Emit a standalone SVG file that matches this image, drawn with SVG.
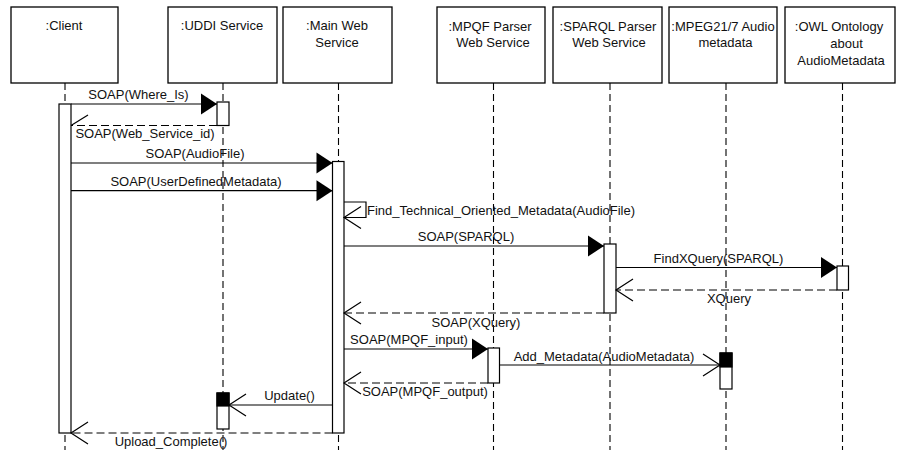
<svg xmlns="http://www.w3.org/2000/svg" width="897" height="450" viewBox="0 0 897 450">
  <style>
    .box { fill: #fff; stroke: #000; stroke-width: 1.3; }
    .life { stroke: #000; stroke-width: 1.1; stroke-dasharray: 7 4; fill: none; }
    .bar { fill: #fff; stroke: #000; stroke-width: 1.2; }
    .busy { fill: #000; stroke: #000; stroke-width: 1.2; }
    .msg { stroke: #000; stroke-width: 1.2; fill: none; }
    .ret { stroke: #000; stroke-width: 1.2; fill: none; stroke-dasharray: 8 4; }
    text { font-family: "Liberation Sans", Arial, sans-serif; font-size: 13px; fill: #111; }
    .c { text-anchor: middle; }
  </style>
  <defs>
    <marker id="solidHead" markerUnits="userSpaceOnUse" markerWidth="17" markerHeight="22" refX="16" refY="10.5" orient="auto" overflow="visible">
      <path d="M0,0 L16,10.5 L0,21 Z" fill="#000" stroke="none"/>
    </marker>
    <marker id="openHead" markerUnits="userSpaceOnUse" markerWidth="18" markerHeight="23" refX="17" refY="11" orient="auto" overflow="visible">
      <path d="M0,0 L17,11 L0,22" fill="none" stroke="#000" stroke-width="1.2" stroke-dasharray="none"/>
    </marker>
  </defs>

  <!-- lifelines with header boxes and activation bars -->
  <g id="client">
    <rect class="box" x="11" y="7" width="107" height="76"/>
    <text class="c" x="64" y="30">:Client</text>
    <line class="life" x1="65" y1="83" x2="65" y2="450"/>
    <rect class="bar" x="59" y="104" width="12" height="329"/>
  </g>

  <g id="uddi">
    <rect class="box" x="168" y="7" width="109" height="76"/>
    <text class="c" x="222" y="29.5">:UDDI Service</text>
    <line class="life" x1="223" y1="83" x2="223" y2="450"/>
    <rect class="bar" x="217" y="102" width="12" height="23.5"/>
    <rect class="bar" x="217" y="393" width="12" height="36"/>
    <rect class="busy" x="217" y="393" width="12" height="13"/>
  </g>

  <g id="main">
    <rect class="box" x="283" y="7" width="109" height="76"/>
    <text class="c" x="337" y="30">:Main Web</text>
    <text class="c" x="337" y="46.5">Service</text>
    <line class="life" x1="338.5" y1="83" x2="338.5" y2="450"/>
    <rect class="bar" x="332.5" y="161.5" width="11.5" height="271.5"/>
  </g>

  <g id="mpqf">
    <rect class="box" x="437" y="7" width="108" height="76"/>
    <text class="c" x="490" y="30.5">:MPQF Parser</text>
    <text class="c" x="493" y="47">Web Service</text>
    <line class="life" x1="493.5" y1="83" x2="493.5" y2="450"/>
    <rect class="bar" x="488" y="348" width="11.5" height="35"/>
  </g>

  <g id="sparql">
    <rect class="box" x="553" y="7" width="109" height="76"/>
    <text class="c" x="608" y="30.5">:SPARQL Parser</text>
    <text class="c" x="609" y="47">Web Service</text>
    <line class="life" x1="610" y1="83" x2="610" y2="450"/>
    <rect class="bar" x="604" y="244" width="12" height="69"/>
  </g>

  <g id="mpeg">
    <rect class="box" x="669" y="7" width="108" height="76"/>
    <text class="c" x="723" y="30.5">:MPEG21/7 Audio</text>
    <text class="c" x="725.5" y="47">metadata</text>
    <line class="life" x1="726" y1="83" x2="726" y2="450"/>
    <rect class="bar" x="720" y="353" width="12" height="36"/>
    <rect class="busy" x="720" y="353" width="12" height="14"/>
  </g>

  <g id="owl">
    <rect class="box" x="785" y="7" width="110" height="76"/>
    <text class="c" x="839" y="30.5">:OWL Ontology</text>
    <text class="c" x="846.5" y="47.5">about</text>
    <text class="c" x="841" y="65">AudioMetadata</text>
    <line class="life" x1="842.5" y1="83" x2="842.5" y2="450"/>
    <rect class="bar" x="837" y="266" width="11.5" height="24"/>
  </g>

  <!-- messages -->
  <g id="messages">
    <line class="msg" x1="71" y1="104" x2="217" y2="104" marker-end="url(#solidHead)"/>
    <text class="c" x="138.5" y="99">SOAP(Where_Is)</text>

    <line class="ret" x1="217" y1="125.5" x2="71" y2="125.5"/>
    <polyline class="msg" points="88,115 71,125.5"/>
    <text class="c" x="145" y="138">SOAP(Web_Service_id)</text>

    <line class="msg" x1="71" y1="163" x2="332.5" y2="163" marker-end="url(#solidHead)"/>
    <text class="c" x="195" y="157.5">SOAP(AudioFile)</text>

    <line class="msg" x1="71" y1="190.7" x2="332.5" y2="190.7" marker-end="url(#solidHead)"/>
    <text class="c" x="196" y="186">SOAP(UserDefinedMetadata)</text>

    <polyline class="msg" points="344,202 366,202 366,217.5 344,217.5" marker-end="url(#openHead)"/>
    <text class="c" x="501" y="215">Find_Technical_Oriented_Metadata(AudioFile)</text>

    <line class="msg" x1="344" y1="246" x2="604" y2="246" marker-end="url(#solidHead)"/>
    <text class="c" x="466" y="241">SOAP(SPARQL)</text>

    <line class="msg" x1="616" y1="267.5" x2="837" y2="267.5" marker-end="url(#solidHead)"/>
    <text class="c" x="718.5" y="263">FindXQuery(SPARQL)</text>

    <line class="ret" x1="837" y1="290" x2="616" y2="290" marker-end="url(#openHead)"/>
    <text class="c" x="729" y="302.5">XQuery</text>

    <line class="ret" x1="604" y1="313" x2="344" y2="313" marker-end="url(#openHead)"/>
    <text class="c" x="476" y="326.5">SOAP(XQuery)</text>

    <line class="msg" x1="344" y1="349" x2="488" y2="349" marker-end="url(#solidHead)"/>
    <text class="c" x="409" y="344">SOAP(MPQF_input)</text>

    <line class="msg" x1="499.5" y1="365" x2="720" y2="365" marker-end="url(#openHead)"/>
    <text class="c" x="604" y="361">Add_Metadata(AudioMetadata)</text>

    <line class="ret" x1="488" y1="383" x2="344" y2="383" marker-end="url(#openHead)"/>
    <text class="c" x="425" y="396">SOAP(MPQF_output)</text>

    <line class="msg" x1="332.5" y1="405" x2="229" y2="405" marker-end="url(#openHead)"/>
    <text class="c" x="289.5" y="400">Update()</text>

    <line class="ret" x1="332.5" y1="433" x2="71" y2="433" marker-end="url(#openHead)"/>
    <text class="c" x="171" y="445.5">Upload_Complete()</text>
  </g>
</svg>
